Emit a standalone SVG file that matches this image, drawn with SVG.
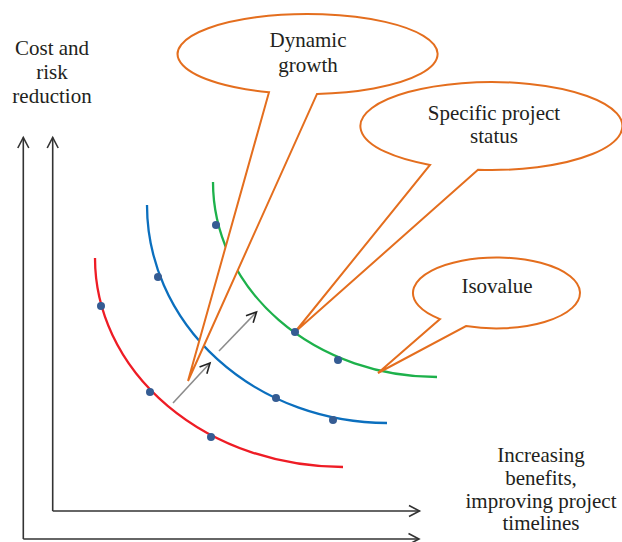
<svg xmlns="http://www.w3.org/2000/svg" width="622" height="542" viewBox="0 0 622 542">
  <style>
    .lbl { font-family: "Liberation Serif", "Times New Roman", serif; font-size: 21px; fill: #231f20; text-anchor: middle; }
    .axis { fill: none; stroke: #333; stroke-width: 1.6; }
    .curve { fill: none; stroke-width: 2.3; stroke-linecap: butt; }
    .callout { fill: #fff; stroke: #E46E1E; stroke-width: 2; stroke-linejoin: miter; }
    .dot { fill: #355C93; }
    .step { fill: none; stroke: #8c8c8c; stroke-width: 1.6; }
  </style>
  <defs>
    <marker id="axisHead" viewBox="-12 -7 14 14" refX="0" refY="0" markerWidth="14" markerHeight="14" markerUnits="userSpaceOnUse" orient="auto" overflow="visible">
      <path d="M-10.5,-5.5 L0,0 L-10.5,5.5" fill="none" stroke="#333" stroke-width="1.6"/>
    </marker>
    <marker id="stepHead" viewBox="-12 -7 14 14" refX="0" refY="0" markerWidth="14" markerHeight="14" markerUnits="userSpaceOnUse" orient="auto" overflow="visible">
      <path d="M-10,-5 L0,0 L-10,5" fill="none" stroke="#222" stroke-width="1.6"/>
    </marker>
  </defs>
  <rect width="622" height="542" fill="#fff"/>

  <!-- axes -->
  <g id="axes">
    <path class="axis" d="M23.3,539 V137.5" marker-end="url(#axisHead)"/>
    <path class="axis" d="M52.7,511 V137.5" marker-end="url(#axisHead)"/>
    <path class="axis" d="M52.7,511 H419.5" marker-end="url(#axisHead)"/>
    <path class="axis" d="M23.3,539 H419" marker-end="url(#axisHead)"/>
  </g>

  <!-- indifference curves -->
  <g id="curves">
    <path class="curve" stroke="#EE1C25" d="M95,258 A248,209 0 0 0 343,467"/>
    <path class="curve" stroke="#0B6FBE" d="M147,205 A240,218 0 0 0 387,423"/>
    <path class="curve" stroke="#1DB14B" d="M213,182 A224,195 0 0 0 437,377"/>
  </g>

  <!-- callout bubbles -->
  <g id="dynamic-growth">
    <path class="callout" d="M269,92.2 A130,40 0 1 1 317,93.9 L188,381 Z"/>
    <text class="lbl" x="308" y="47">Dynamic</text>
    <text class="lbl" x="308" y="72">growth</text>
  </g>
  <g id="specific-project-status">
    <path class="callout" d="M430,164.9 A131,44 0 1 1 478,169.8 L295,332 Z"/>
    <text class="lbl" x="494" y="120">Specific project</text>
    <text class="lbl" x="494" y="143">status</text>
  </g>
  <g id="isovalue">
    <path class="callout" d="M440,319.1 A83.5,35.5 0 1 1 466,326 L378,373 Z"/>
    <text class="lbl" x="497" y="293">Isovalue</text>
  </g>

  <!-- data points -->
  <g id="points">
    <circle class="dot" cx="101" cy="306" r="4"/>
    <circle class="dot" cx="150" cy="392" r="4"/>
    <circle class="dot" cx="211" cy="437" r="4"/>
    <circle class="dot" cx="158" cy="277" r="4"/>
    <circle class="dot" cx="276" cy="398" r="4"/>
    <circle class="dot" cx="333" cy="420" r="4"/>
    <circle class="dot" cx="216" cy="225" r="4"/>
    <circle class="dot" cx="295" cy="332" r="4"/>
    <circle class="dot" cx="338" cy="360" r="4"/>
  </g>

  <!-- movement arrows between curves -->
  <g id="connectors">
    <path class="step" d="M173,403 L210,363" marker-end="url(#stepHead)"/>
    <path class="step" d="M219,351 L256.5,312" marker-end="url(#stepHead)"/>
  </g>

  <!-- axis labels -->
  <g id="y-label">
    <text class="lbl" x="52" y="55">Cost and</text>
    <text class="lbl" x="52" y="79">risk</text>
    <text class="lbl" x="52" y="103">reduction</text>
  </g>
  <g id="x-label">
    <text class="lbl" x="541" y="462">Increasing</text>
    <text class="lbl" x="541" y="485">benefits,</text>
    <text class="lbl" x="541" y="507.5">improving project</text>
    <text class="lbl" x="541" y="530">timelines</text>
  </g>
</svg>
